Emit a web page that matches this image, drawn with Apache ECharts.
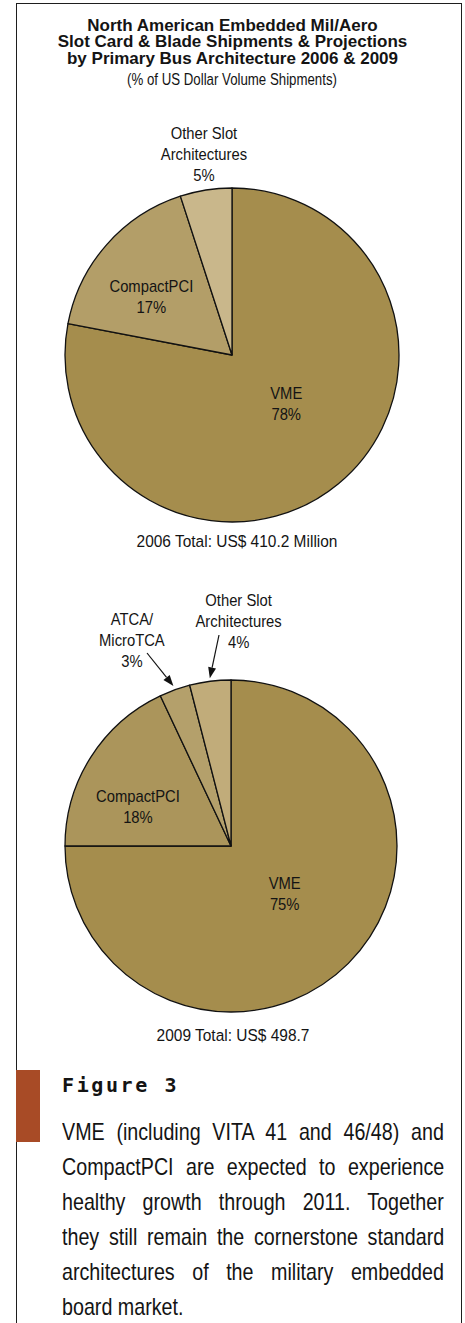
<!DOCTYPE html>
<html>
<head>
<meta charset="utf-8">
<script src="https://cdn.jsdelivr.net/npm/echarts@6/dist/echarts.min.js"></script>
<style>
  html, body { margin: 0; padding: 0; background: #fff; }
  #page { position: relative; width: 465px; height: 1323px; overflow: hidden; background: #fff; }
  #frame { position: absolute; left: 16px; top: 3px; width: 446px; height: 1340px; border: 1.5px solid #1e1e1e; box-sizing: border-box; }
  #chart { position: absolute; left: 0; top: 0; width: 465px; height: 1060px; }
  #tab { position: absolute; left: 16px; top: 1070px; width: 24px; height: 72px; background: #a84b26; }
  #fig { position: absolute; left: 62px; top: 1071px; font-family: 'DejaVu Sans Mono', monospace; font-weight: bold; font-size: 20px; letter-spacing: 2.6px; color: #141414; line-height: 28px; }
  #note { position: absolute; left: 62px; top: 1114px; width: 382px; font-family: 'Liberation Sans', sans-serif; font-size: 24px; line-height: 35px; color: #141414; }
  #note .ln { white-space: nowrap; height: 35px; transform-origin: 0 0; }
  #note .ln span { display: inline; }
</style>
</head>
<body>
<div id="page">
  <div id="frame"></div>
  <div id="chart"></div>
  <div id="tab"></div>
  <div id="fig">Figure 3</div>
  <div id="note">
    <div class="ln j"><span>VME (including VITA 41 and 46/48) and</span></div>
    <div class="ln j"><span>CompactPCI are expected to experience</span></div>
    <div class="ln j"><span>healthy growth through 2011. Together</span></div>
    <div class="ln j"><span>they still remain the cornerstone standard</span></div>
    <div class="ln j"><span>architectures of the military embedded</span></div>
    <div class="ln"><span>board market.</span></div>
  </div>
</div>
<script>
// Shares of US dollar volume shipments, by primary bus architecture
const categories2006 = ['VME', 'CompactPCI', 'Other Slot\nArchitectures'];
const share2006 = [78, 17, 5];
const categories2009 = ['VME', 'CompactPCI', 'ATCA/\nMicroTCA', 'Other Slot\nArchitectures'];
const share2009 = [75, 18, 3, 4];
const totalLabels = ['2006 Total: US$ 410.2 Million', '2009 Total: US$ 498.7'];

const titleLines = [
  'North American Embedded Mil/Aero',
  'Slot Card & Blade Shipments & Projections',
  'by Primary Bus Architecture 2006 & 2009'
];
const subtitle = '(% of US Dollar Volume Shipments)';

// Slice fills
const colors2006 = ['#a58d4d', '#b39e68', '#c9b78b'];
const colors2009 = ['#a58d4d', '#ab955b', '#b4a06b', '#c1ac7a'];

const FONT = "'Liberation Sans', sans-serif";
const INK = '#141414';
const NARROW = 0.87;   // horizontal squeeze for the condensed face

const pie2006 = { center: [232, 355], radius: 167 };
const pie2009 = { center: [231, 846], radius: 166 };

// label nudges relative to the middle of each slice (half radius)
const offsets2006 = [[1, -16], [-18, -3], [-15, -118]];
const offsets2009 = [[-5, -11], [-23, 5], [-71, -128], [18, -143]];

function pieData(names, values, colors) {
  return names.map((n, i) => ({ name: n, value: values[i], itemStyle: { color: colors[i] } }));
}

function pieSeries(cfg, data) {
  return {
    type: 'pie',
    center: cfg.center,
    radius: cfg.radius,
    startAngle: 90,
    clockwise: true,
    silent: true,
    animation: false,
    z: 1,
    data: data,
    itemStyle: { borderColor: '#111', borderWidth: 1.3 },
    label: { show: false },
    labelLine: { show: false },
    emphasis: { disabled: true }
  };
}

// point on the bisector of slice idx at distance r (clockwise from 12 o'clock)
function slicePoint(cfg, values, idx, r) {
  const total = values.reduce((a, b) => a + b, 0);
  let before = 0;
  for (let i = 0; i < idx; i++) before += values[i];
  const a = (before + values[idx] / 2) / total * 2 * Math.PI;
  return [cfg.center[0] + Math.sin(a) * r, cfg.center[1] - Math.cos(a) * r];
}

function narrowText(x, y, text, size, squeeze) {
  return {
    type: 'text', silent: true, z: 100, x: x, y: y, scaleX: squeeze || NARROW,
    style: {
      x: 0, y: 0, text: text, align: 'center', verticalAlign: 'middle',
      fontFamily: FONT, fontSize: size, lineHeight: 21, fill: INK
    }
  };
}

function sliceLabels(cfg, names, values, offsets) {
  return names.map((n, i) => {
    const p = slicePoint(cfg, values, i, cfg.radius / 2);
    return narrowText(p[0] + offsets[i][0], p[1] + offsets[i][1], n + '\n' + values[i] + '%', 17);
  });
}

function arrow(from, to) {
  const dx = to[0] - from[0], dy = to[1] - from[1];
  const len = Math.hypot(dx, dy);
  const ux = dx / len, uy = dy / len;
  const hl = 11, hw = 4;
  const bx = to[0] - ux * hl, by = to[1] - uy * hl;
  return [
    { type: 'line', silent: true, z: 100,
      shape: { x1: from[0], y1: from[1], x2: bx, y2: by },
      style: { stroke: '#111', lineWidth: 1.2 } },
    { type: 'polygon', silent: true, z: 100,
      shape: { points: [to, [bx - uy * hw, by + ux * hw], [bx + uy * hw, by - ux * hw]] },
      style: { fill: '#111' } }
  ];
}

const chart = echarts.init(document.getElementById('chart'), null, { renderer: 'svg' });

const graphics = [
  narrowText(232, 79, subtitle, 17, 0.78),
  narrowText(237, 541, totalLabels[0], 17, 0.91),
  narrowText(233, 1035, totalLabels[1], 17, 0.91)
];
graphics.push(...sliceLabels(pie2006, categories2006, share2006, offsets2006));
graphics.push(...sliceLabels(pie2009, categories2009, share2009, offsets2009));
// arrows from the small-slice labels down to their slices
graphics.push(...arrow([147, 653], slicePoint(pie2009, share2009, 2, pie2009.radius + 4)));
graphics.push(...arrow([219, 635], slicePoint(pie2009, share2009, 3, pie2009.radius + 3)));

chart.setOption({
  animation: false,
  title: {
    text: titleLines.join('\n'),
    left: 'center',
    top: 12,
    textStyle: { fontFamily: FONT, fontWeight: 'bold', fontSize: 17, lineHeight: 16.5, color: INK }
  },
  series: [
    pieSeries(pie2006, pieData(categories2006, share2006, colors2006)),
    pieSeries(pie2009, pieData(categories2009, share2009, colors2009))
  ],
  graphic: { elements: graphics }
});

// Condensed, justified caption: squeeze each line horizontally, then
// spread the word gaps so justified lines reach the full column width.
(function () {
  const COLUMN = 382, SQUEEZE = 0.82;
  const full = COLUMN / SQUEEZE;
  document.querySelectorAll('#note .ln').forEach(line => {
    const span = line.firstElementChild;
    line.style.transform = 'scaleX(' + SQUEEZE + ')';
    if (line.classList.contains('j')) {
      const natural = span.offsetWidth;
      const gaps = (span.textContent.match(/ /g) || []).length;
      if (gaps) span.style.wordSpacing = ((full - natural) / gaps) + 'px';
    }
  });
})();
</script>
</body>
</html>
